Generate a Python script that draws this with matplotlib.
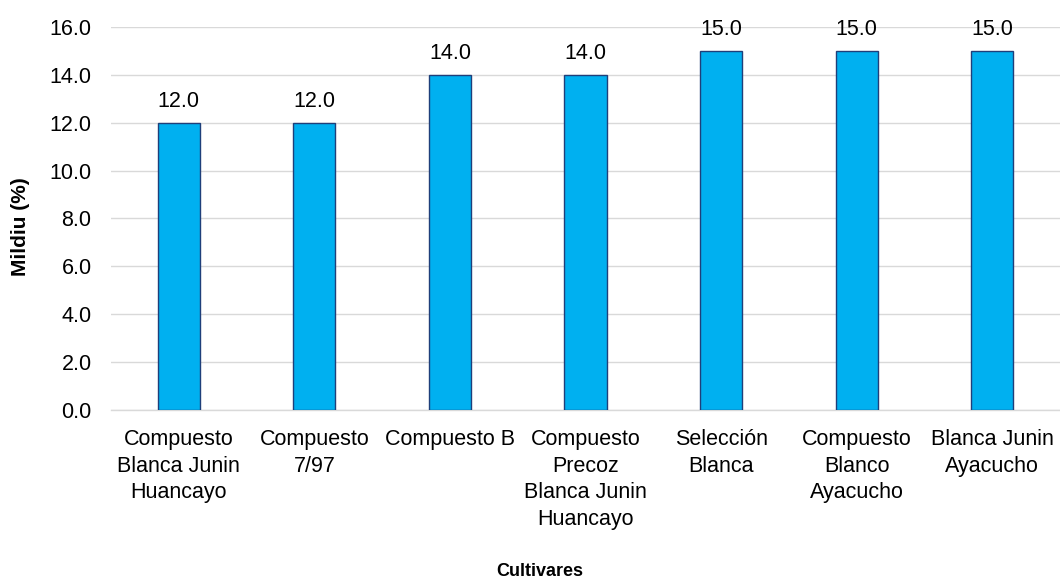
import numpy as np
import matplotlib
matplotlib.use('Agg')
import matplotlib.pyplot as plt

cultivares = ['Compuesto\nBlanca Junin\nHuancayo', 'Compuesto\n7/97', 'Compuesto B',
              'Compuesto\nPrecoz\nBlanca Junin\nHuancayo', 'Selección\nBlanca',
              'Compuesto\nBlanco\nAyacucho', 'Blanca Junin\nAyacucho']
mildiu = [12.0, 12.0, 14.0, 14.0, 15.0, 15.0, 15.0]

plt.rcParams['font.family'] = ['Liberation Sans', 'DejaVu Sans']

fig = plt.figure(figsize=(10.6, 5.83), dpi=100)
ax = fig.add_axes([0.1047, 0.2975, 0.8953, 0.656])

x = np.arange(len(cultivares))
ax.bar(x, mildiu, width=0.31, color='#00B0F0', edgecolor='#1F3F7A', linewidth=1.0, zorder=3)
for xi, v in zip(x, mildiu):
    ax.text(xi, v + 0.45, f'{v:.1f}', ha='center', va='bottom', fontsize=15.5, zorder=4)

ax.set_xlim(-0.5, len(cultivares) - 0.5)
ax.set_ylim(0, 16)
ax.set_yticks(np.arange(0, 16.1, 2))
ax.set_yticklabels([f'{t:.1f}' for t in np.arange(0, 16.1, 2)])
ax.set_xticks(x)
ax.set_xticklabels(cultivares, fontsize=15.5, linespacing=1.35)
ax.tick_params(axis='y', labelsize=15.5, length=0, pad=14)
ax.tick_params(axis='x', length=0, pad=14)
ax.grid(axis='y', color='#d9d9d9', linewidth=1.0, zorder=0)
for s in ['top', 'right', 'left']:
    ax.spines[s].set_visible(False)
ax.spines['bottom'].set_color('#d9d9d9')
ax.spines['bottom'].set_linewidth(1.0)

fig.text(0.019, 0.612, 'Mildiu (%)', rotation=90, ha='center', va='center',
         fontsize=15, fontweight='bold')
fig.text(0.509, 0.005, 'Cultivares', ha='center', va='bottom', fontsize=13, fontweight='bold')

fig.savefig('out.png', dpi=100)
